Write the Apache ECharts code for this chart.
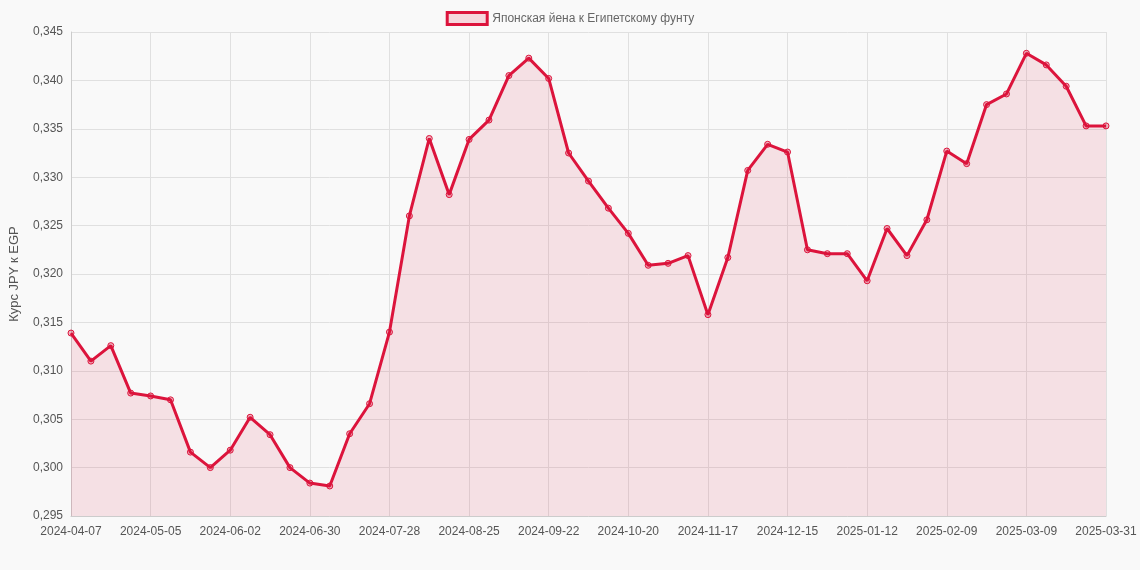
<!DOCTYPE html>
<html lang="ru">
<head>
<meta charset="UTF-8">
<title>JPY к EGP</title>
<script src="https://cdn.jsdelivr.net/npm/echarts@6/dist/echarts.min.js"></script>
<style>html,body{margin:0;background:#f9f9f9}</style>
</head>
<body>
<div id="chart" style="width:1140px;height:570px"></div>
<script>
var dates = ['2024-04-07','2024-04-14','2024-04-21','2024-04-28','2024-05-05','2024-05-12','2024-05-19','2024-05-26',
  '2024-06-02','2024-06-09','2024-06-16','2024-06-23','2024-06-30','2024-07-07','2024-07-14','2024-07-21',
  '2024-07-28','2024-08-04','2024-08-11','2024-08-18','2024-08-25','2024-09-01','2024-09-08','2024-09-15',
  '2024-09-22','2024-09-29','2024-10-06','2024-10-13','2024-10-20','2024-10-27','2024-11-03','2024-11-10',
  '2024-11-17','2024-11-24','2024-12-01','2024-12-08','2024-12-15','2024-12-22','2024-12-29','2025-01-05',
  '2025-01-12','2025-01-19','2025-01-26','2025-02-02','2025-02-09','2025-02-16','2025-02-23','2025-03-02',
  '2025-03-09','2025-03-16','2025-03-23','2025-03-30','2025-03-31'];
var rates = [0.3139,0.3110,0.3126,0.3077,0.3074,0.3070,0.3016,0.3000,
  0.3018,0.3052,0.3034,0.3000,0.2984,0.2981,0.3035,0.3066,
  0.3140,0.3260,0.3340,0.3282,0.3339,0.3359,0.3405,0.3423,
  0.3402,0.3325,0.3296,0.3268,0.3242,0.3209,0.3211,0.3219,
  0.3158,0.3217,0.3307,0.3334,0.3326,0.3225,0.3221,0.3221,
  0.3193,0.3247,0.3219,0.3256,0.3327,0.3314,0.3375,0.3386,
  0.3428,0.3416,0.3394,0.3353,0.3353];
var seriesName = 'Японская йена к Египетскому фунту';

var chart = echarts.init(document.getElementById('chart'));
chart.setOption({
  backgroundColor: '#f9f9f9',
  textStyle: {fontFamily: 'Liberation Sans, Arial, sans-serif'},
  legend: {
    top: 6, itemWidth: 40, itemHeight: 12,
    textStyle: {color: '#666', fontSize: 12},
    data: [{name: seriesName, icon: 'rect', itemStyle: {color: 'rgba(220,20,60,0.15)', borderColor: '#dc143c', borderWidth: 3}}]
  },
  grid: {left: 64, right: 34, top: 32, bottom: 54},
  xAxis: {
    type: 'category', data: dates, boundaryGap: false,
    axisLine: {lineStyle: {color: '#ccc'}},
    axisTick: {show: false},
    axisLabel: {interval: 3, color: '#555', fontSize: 12, margin: 10},
    splitLine: {show: true, interval: 3, lineStyle: {color: '#e0e0e0'}}
  },
  yAxis: {
    type: 'value', min: 0.295, max: 0.345, interval: 0.005,
    name: 'Курс JPY к EGP', nameLocation: 'middle', nameGap: 50,
    nameTextStyle: {color: '#555', fontSize: 13},
    axisLine: {show: true, lineStyle: {color: '#ccc'}},
    axisLabel: {color: '#555', fontSize: 12, formatter: function (v) { return v.toFixed(3).replace('.', ','); }},
    splitLine: {lineStyle: {color: '#e0e0e0'}}
  },
  series: [{
    name: seriesName, type: 'line', data: rates,
    symbol: 'circle', symbolSize: 6,
    itemStyle: {color: 'rgba(220,20,60,0.3)', borderColor: '#dc143c', borderWidth: 1},
    lineStyle: {color: '#dc143c', width: 3},
    areaStyle: {color: 'rgba(220,20,60,0.15)'}
  }]
});
</script>
</body>
</html>
